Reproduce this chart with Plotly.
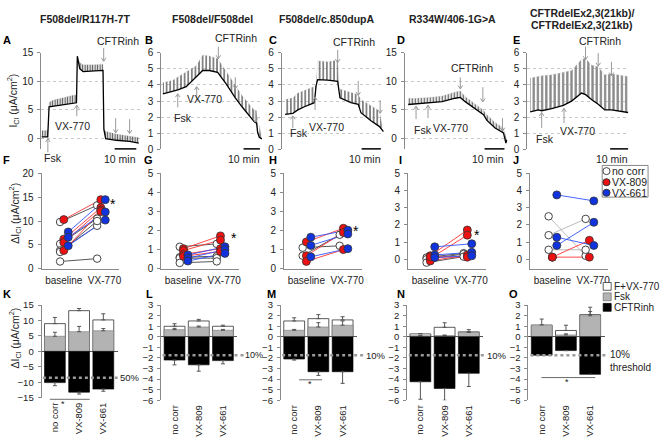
import plotly.graph_objects as go

W, H = 669, 444
def X(px): return px / W
def Y(py): return 1 - py / H

FONT = "Liberation Sans, Arial, sans-serif"
TXT = "#222222"

# ---------------- data ----------------
# Top row: Ussing chamber traces; time [min], baseline current and pulse tops [uA/cm2]
A_time = [0.1, 2.1, 2.9, 3.5, 5.4, 9.9, 15.2, 16.0, 16.4, 17.5, 19.0, 23.5, 28.1, 28.5, 29.3, 34.2, 40.2, 44.4]
A_low = [0.2, 0.2, 0.2, 5.5, 5.6, 5.9, 6.2, 6.2, 14.4, 12.2, 11.7, 11.8, 11.9, 1.5, -0.1, -0.4, -0.6, -0.9]
A_high = [1.3, 1.3, 1.3, 6.3, 6.7, 7.1, 7.6, 7.5, 14.4, 13.3, 12.9, 12.9, 13.0, 1.5, 1.2, 0.7, 0.4, 0.1]

B_time = [1.0, 7.0, 10.0, 15.0, 21.0, 24.9, 28.9, 33.9, 38.9, 44.5, 48.9, 52.9, 55.9, 57.3, 57.9, 58.9, 60.5]
B_low = [3.45, 3.6, 3.7, 3.9, 4.47, 4.9, 4.9, 4.78, 4.08, 3.2, 2.6, 2.08, 1.71, 1.63, 1.06, 0.75, 0.65]
B_high = [4.16, 4.3, 4.5, 4.8, 5.2, 5.86, 5.8, 5.65, 4.85, 3.95, 3.3, 2.8, 2.45, 2.4, 1.5, 1.47, 0.65]

C_time = [1.7, 5.7, 8.3, 11.7, 16.9, 17.8, 18.6, 23.8, 29.0, 29.8, 30.2, 35.9, 39.7, 41.1, 46.3, 50.6, 52.8]
C_low = [2.18, 2.24, 2.45, 2.65, 2.9, 3.96, 4.33, 4.3, 4.22, 3.7, 3.2, 2.9, 2.8, 2.28, 1.78, 1.43, 1.1]
C_high = [3.1, 3.2, 3.5, 3.67, 3.9, 3.96, 5.5, 5.45, 5.55, 3.7, 3.75, 3.55, 3.4, 3.1, 2.7, 2.4, 1.1]

D_time = [1.7, 5.3, 12.0, 18.7, 25.3, 27.8, 30.3, 37.0, 39.5, 41.2, 45.3, 49.5, 50.7, 51.2]
D_low = [5.9, 6.0, 6.1, 6.4, 7.0, 7.15, 6.4, 4.65, 4.1, 3.1, 1.75, 0.9, -0.9, -0.3]
D_high = [7.0, 7.0, 7.15, 7.4, 8.1, 8.3, 7.3, 5.6, 4.9, 4.1, 2.75, 1.75, 0.0, -0.3]

E_time = [1.5, 6.0, 7.8, 13.3, 19.7, 24.2, 29.7, 31.9, 35.1, 38.8, 42.4, 46.1, 55.2]
E_low = [2.33, 2.45, 2.4, 2.53, 2.73, 3.0, 3.5, 3.4, 3.1, 2.8, 2.45, 2.45, 2.29]
E_high = [4.43, 4.53, 4.57, 4.63, 4.78, 4.9, 5.6, 5.65, 5.24, 5.14, 4.63, 4.7, 4.53]

titles = ["F508del/R117H-7T", "F508del/F508del", "F508del/c.850dupA", "R334W/406-1G>A",
          "CFTRdelEx2,3(21kb)/", "CFTRdelEx2,3(21kb)"]

# Middle row: delta I_Cl at baseline and after VX-770, per corrector
groups = ["no corr", "VX-809", "VX-661"]
F_nocorr_base = [9.8, 5.2, 3.8, 3.5, 1.5]
F_nocorr_vx = [13.3, 10.5, 9.0, 10.0, 2.1]
F_809_base = [10.3, 6.2, 5.5, 3.8]
F_809_vx = [14.5, 12.8, 12.3, 12.0]
F_661_base = [7.7, 6.6, 4.8]
F_661_vx = [14.5, 11.9, 10.2]

G_nocorr_base = [1.15, 0.6, 0.55, 0.3]
G_nocorr_vx = [1.3, 0.65, 0.55, 0.38]
G_809_base = [1.05, 0.95, 0.75, 0.65]
G_809_vx = [1.72, 1.5, 1.05, 0.9]
G_661_base = [0.72, 0.55, 0.4]
G_661_vx = [1.15, 1.0, 0.8]

H_nocorr_base = [1.1, 0.68]
H_nocorr_vx = [1.2, 1.78]
H_809_base = [1.4, 0.68, 0.38]
H_809_vx = [2.12, 1.9, 1.0]
H_661_base = [1.65, 1.22, 0.62]
H_661_vx = [2.02, 1.82, 1.05]

I_nocorr_base = [0.1, 0.0, -0.2]
I_nocorr_vx = [0.35, 0.3, 0.15]
I_809_base = [0.2, 0.05, -0.1, 0.15]
I_809_vx = [1.7, 1.4, 0.25, 0.12]
I_661_base = [0.72, 0.25, 0.1]
I_661_vx = [0.9, 0.4, 0.2]

J_nocorr_base = [2.5, 1.4, 0.55]
J_nocorr_vx = [0.2, 2.35, 0.55]
J_809_base = [0.12, 0.12]
J_809_vx = [1.1, 0.12]
J_661_base = [3.75, 0.8, 1.28]
J_661_vx = [3.4, 2.15, 0.8]

# Bottom row: stacked bars (F+VX-770 total, Fsk, CFTRinh) with SEM
bar_cats = ["no corr", "VX-809", "VX-661"]
K_total = [9.0, 13.2, 10.2]; K_total_err = [2.0, 0.7, 2.0]
K_fsk = [4.9, 6.4, 6.7]; K_fsk_err = [1.3, 1.7, 0.7]
K_inh = [-10.1, -13.2, -12.2]; K_inh_err = [1.0, 0.6, 0.7]
L_total = [1.0, 1.5, 1.0]; L_total_err = [0.24, 0.15, 0.1]
L_fsk = [0.68, 0.93, 0.62]; L_fsk_err = [0.12, 0.09, 0.08]
L_inh = [-2.2, -2.65, -2.25]; L_inh_err = [0.45, 0.6, 0.3]
M_total = [1.5, 1.72, 1.6]; M_total_err = [0.3, 0.38, 0.3]
M_fsk = [0.62, 0.93, 1.1]; M_fsk_err = [0.08, 0.41, 0.4]
M_inh = [-2.1, -3.3, -3.3]; M_inh_err = [0.1, 0.35, 1.1]
N_total = [0.28, 0.9, 0.47]; N_total_err = [0.03, 0.43, 0.21]
N_fsk = [0.1, 0.12, 0.42]; N_fsk_err = [0.0, 0.05, 0.05]
N_inh = [-4.25, -4.88, -3.45]; N_inh_err = [1.65, 1.12, 1.25]
O_total = [1.1, 0.6, 2.1]; O_total_err = [0.0, 0.5, 0.7]
O_fsk = [1.12, 0.18, 2.0]; O_fsk_err = [0.56, 0.1, 0.4]
O_inh = [-1.74, -1.3, -3.55]; O_inh_err = [0.0, 0.0, 0.0]
thresholds = [-8.5, -1.75, -1.75, -1.75, -1.75]
threshold_labels = ["50%", "10%", "10%", "10%", "10%<br>threshold"]

# ---------------- figure ----------------
fig = go.Figure()
layout = {}
ann = []
shapes = []

def keys(i):
    s = "" if i == 1 else str(i)
    return "xaxis" + s, "yaxis" + s, "x" + s, "y" + s

def text(px, py, s, size=10.5, color=TXT, xanchor="center", yanchor="middle", angle=0, align="center"):
    ann.append(dict(x=X(px), y=Y(py), xref="paper", yref="paper", text=s, showarrow=False,
                    font=dict(size=size, color=color, family=FONT), xanchor=xanchor,
                    yanchor=yanchor, textangle=angle, align=align, borderpad=0))

def arrow(px, tip, tail):
    # thin gray arrow with an open "V" head, drawn as a path in page coordinates
    s = 1 if tip > tail else -1          # +1: head points down
    hy = tip - s * 3.5
    path = "M %.5f,%.5f L %.5f,%.5f M %.5f,%.5f L %.5f,%.5f L %.5f,%.5f" % (
        X(px), Y(tail), X(px), Y(tip), X(px - 2.3), Y(hy), X(px), Y(tip), X(px + 2.3), Y(hy))
    shapes.append(dict(type="path", xref="paper", yref="paper", path=path,
                       line=dict(color="#9a9a9a", width=1)))

def pline(x0, x1, y0, y1, color="black", width=1.0, dash="solid"):
    shapes.append(dict(type="line", xref="paper", yref="paper", x0=X(x0), x1=X(x1),
                       y0=Y(y0), y1=Y(y1), line=dict(color=color, width=width, dash=dash)))

axis_common = dict(showline=True, linecolor="#8a8a8a", linewidth=1, ticks="outside", ticklen=3,
                   tickcolor="#8a8a8a", tickfont=dict(size=10, color=TXT, family=FONT),
                   ticklabelstandoff=2, zeroline=False, showgrid=False)

# ---- top row ----
top = [
    (A_time, A_low, A_high, 41.5, 140.0, 2.2, [-2, 15], [0, 5, 10, 15], 2.5, "#555555", 0.5),
    (B_time, B_low, B_high, 161.7, 263.0, 1.67, [0, 6], [0, 1, 2, 3, 4, 5, 6], 3.6, "#6a6a6a", 0.42),
    (C_time, C_low, C_high, 282.7, 385.0, 1.93, [0, 6], [0, 1, 2, 3, 4, 5, 6], 3.6, "#6a6a6a", 0.42),
    (D_time, D_low, D_high, 406.0, 509.0, 2.0, [-2, 15], [0, 5, 10, 15], 3.0, "#626262", 0.45),
    (E_time, E_low, E_high, 529.0, 630.5, 1.83, [0, 6], [0, 1, 2, 3, 4, 5, 6], 4.2, "#8a8a8a", 0.55),
]
for k, (t, lo, hi, x0, x1, ppm, yr, tv, psz, pcol, sol) in enumerate(top):
    i = k + 1
    xk, yk, xr, yrf = keys(i)
    fig.add_trace(go.Scatter(x=t, y=hi, xaxis=xr, yaxis=yrf, mode="lines",
                             line=dict(color="#d0d0d0", width=0.3), hoverinfo="skip", showlegend=False))
    fig.add_trace(go.Scatter(x=t, y=lo, xaxis=xr, yaxis=yrf, mode="lines",
                             line=dict(color="black", width=1.3), fill="tonexty",
                             fillcolor="rgba(255,255,255,0)",
                             fillpattern=dict(shape="|", fgcolor=pcol, bgcolor="rgba(255,255,255,0)",
                                              size=psz, solidity=sol, fgopacity=1),
                             hoverinfo="skip", showlegend=False))
    layout[xk] = dict(domain=[X(x0), X(x1)], range=[0, (x1 - x0) / ppm], visible=False, anchor=yrf)
    d = dict(axis_common)
    d.update(domain=[Y(147), Y(48)], range=yr, tickvals=tv, anchor=xr, showgrid=True,
             gridcolor="#c8c8c8", griddash="dot", gridwidth=1)
    layout[yk] = d

# ---- middle row ----
mid = [
    (F_nocorr_base, F_nocorr_vx, F_809_base, F_809_vx, F_661_base, F_661_vx, 41.7, [0, 20], [0, 5, 10, 15, 20], "#444444"),
    (G_nocorr_base, G_nocorr_vx, G_809_base, G_809_vx, G_661_base, G_661_vx, 161.7, [0, 5], [0, 1, 2, 3, 4, 5], "#444444"),
    (H_nocorr_base, H_nocorr_vx, H_809_base, H_809_vx, H_661_base, H_661_vx, 285.0, [0, 5], [0, 1, 2, 3, 4, 5], "#444444"),
    (I_nocorr_base, I_nocorr_vx, I_809_base, I_809_vx, I_661_base, I_661_vx, 409.3, [-0.55, 5], [0, 1, 2, 3, 4, 5], "#444444"),
    (J_nocorr_base, J_nocorr_vx, J_809_base, J_809_vx, J_661_base, J_661_vx, 531.7, [-0.55, 5], [0, 1, 2, 3, 4, 5], "#b4b4b4"),
]
offsets = [-0.1, 0.0, 0.12]
line_cols = [None, "#ff3333", "#3355ff"]
mk = [dict(color="white", size=7.5, line=dict(color="#444", width=1)),
      dict(color="#ee1111", size=8, line=dict(color="#333", width=0.8)),
      dict(color="#1133dd", size=8, line=dict(color="#333", width=0.8))]
for k, (nb, nv, rb, rv, bb, bv, x0, yr, tv, gcol) in enumerate(mid):
    i = k + 6
    xk, yk, xr, yrf = keys(i)
    sets = [(nb, nv), (rb, rv), (bb, bv)]
    for g, (b, v) in enumerate(sets):
        xs, ys = [], []
        for bi, vi in zip(b, v):
            xs += [0 + offsets[g], 1 + offsets[g], None]
            ys += [bi, vi, None]
        fig.add_trace(go.Scatter(x=xs, y=ys, xaxis=xr, yaxis=yrf, mode="lines",
                                 line=dict(color=line_cols[g] or gcol, width=0.9),
                                 hoverinfo="skip", showlegend=False))
    for g, (b, v) in enumerate(sets):
        fig.add_trace(go.Scatter(x=[0 + offsets[g]] * len(b) + [1 + offsets[g]] * len(v), y=b + v,
                                 xaxis=xr, yaxis=yrf, mode="markers", marker=mk[g],
                                 name=groups[g], hoverinfo="skip", showlegend=False))
    dx = dict(axis_common)
    dx.update(domain=[X(x0), X(x0 + 78)], range=[-0.6, 1.5], tickvals=[0, 1.1],
              ticktext=["baseline", "VX-770"], ticks="", anchor=yrf)
    layout[xk] = dx
    dy = dict(axis_common)
    dy.update(domain=[Y(269.3), Y(171.7)], range=yr, tickvals=tv, anchor=xr)
    layout[yk] = dy

# ---- bottom row ----
bot = [
    (K_total, K_total_err, K_fsk, K_fsk_err, K_inh, K_inh_err, 41.7, [-15, 15], list(range(-15, 16, 5)), 401.7),
    (L_total, L_total_err, L_fsk, L_fsk_err, L_inh, L_inh_err, 161.7, [-6, 3], list(range(-6, 4)), 404.3),
    (M_total, M_total_err, M_fsk, M_fsk_err, M_inh, M_inh_err, 281.7, [-6, 3], list(range(-6, 4)), 404.3),
    (N_total, N_total_err, N_fsk, N_fsk_err, N_inh, N_inh_err, 408.3, [-6, 3], list(range(-6, 4)), 404.3),
    (O_total, O_total_err, O_fsk, O_fsk_err, O_inh, O_inh_err, 530.0, [-6, 3], list(range(-6, 4)), 404.3),
]
xpos = [0, 1, 2]
zeros = [0, 0, 0]
for k, (tot, tote, fsk, fske, inh, inhe, x0, yr, tv, ybot) in enumerate(bot):
    i = k + 11
    xk, yk, xr, yrf = keys(i)
    eb = dict(type="data", symmetric=False, color="#555555", thickness=1, width=2)
    fig.add_trace(go.Bar(x=xpos, y=tot, width=0.86, xaxis=xr, yaxis=yrf,
                         marker=dict(color="white", line=dict(color="#333", width=0.8)),
                         error_y=dict(eb, array=tote, arrayminus=zeros), hoverinfo="skip", showlegend=False))
    fig.add_trace(go.Bar(x=xpos, y=fsk, width=0.86, xaxis=xr, yaxis=yrf,
                         marker=dict(color="#b3b3b3", line=dict(color="#777", width=0.6)),
                         error_y=dict(eb, array=fske, arrayminus=zeros), hoverinfo="skip", showlegend=False))
    fig.add_trace(go.Bar(x=xpos, y=inh, width=0.86, xaxis=xr, yaxis=yrf,
                         marker=dict(color="black", line=dict(color="black", width=0.6)),
                         error_y=dict(eb, array=zeros, arrayminus=inhe), hoverinfo="skip", showlegend=False))
    dx = dict(axis_common)
    dx.update(domain=[X(x0), X(x0 + 76.5)], range=[-0.55, 2.6], tickvals=xpos, ticktext=bar_cats,
              tickangle=-90, ticks="", showline=False, anchor=yrf,
              tickfont=dict(size=9.5, color=TXT, family=FONT))
    layout[xk] = dx
    dy = dict(axis_common)
    dy.update(domain=[Y(ybot), Y(306.7)], range=yr, tickvals=tv, anchor=xr, zeroline=True,
              zerolinecolor="#555", zerolinewidth=1, tickfont=dict(size=9.5, color=TXT, family=FONT))
    layout[yk] = dy

# threshold lines
thr_x = [(43, 118, 119), (163, 245, 245), (283, 366, 366), (410, 487, 487), (532, 608, 611)]
for k, (xa, xb, xl) in enumerate(thr_x):
    yrf = keys(k + 11)[3]
    shapes.append(dict(type="line", xref="paper", yref=yrf, x0=X(xa), x1=X(xb),
                       y0=thresholds[k], y1=thresholds[k],
                       line=dict(color="#9a9a9a", width=2.5, dash="dot")))
    if k < 4:
        ann.append(dict(x=X(xl), y=thresholds[k], xref="paper", yref=yrf, text=threshold_labels[k],
                        showarrow=False, xanchor="left", yanchor="middle", borderpad=0,
                        font=dict(size=9 if k == 1 else 9.5, color=TXT, family=FONT)))
    else:
        ann.append(dict(x=X(xl), y=thresholds[k], xref="paper", yref=yrf, text=threshold_labels[k],
                        showarrow=False, xanchor="left", yanchor="top", align="left", yshift=7,
                        borderpad=0, font=dict(size=10, color=TXT, family=FONT)))

# significance bars
for (xa, xb, py, sx, sy) in [(50, 90, 403.3, 63, 408), (300, 323, 383.3, 310.7, 388), (543, 597, 381, 569, 386)]:
    pline(xa, xb, py, py, color="#444", width=0.8)
    text(sx, sy, "*", size=9)

# ---- titles and panel letters ----
text(85, 13.3, "<b>%s</b>" % titles[0], size=10.5)
text(213, 13.3, "<b>%s</b>" % titles[1], size=10.5)
text(328, 13.3, "<b>%s</b>" % titles[2], size=10.5)
text(454, 13.3, "<b>%s</b>" % titles[3], size=10.5)
text(584, 7.3, "<b>%s</b>" % titles[4], size=10.5)
text(584, 19.3, "<b>%s</b>" % titles[5], size=10.5)
for lab, px, py in [("A", 7, 35), ("B", 149, 35), ("C", 274, 35), ("D", 402, 35), ("E", 518, 35),
                    ("F", 7, 158), ("G", 149, 158), ("H", 274, 158), ("I", 402, 158), ("J", 518, 158),
                    ("K", 7, 295), ("L", 150, 295), ("M", 272, 295), ("N", 402, 295), ("O", 515, 295)]:
    text(px, py, "<b>%s</b>" % lab, size=11, color="black")

# axis titles
text(13, 97, "I<sub>Cl</sub> (μA/cm<sup>2</sup>)", size=10.5, angle=-90)
text(15, 212, "ΔI<sub>Cl</sub> (μA/cm<sup>2</sup>)", size=10.5, angle=-90)
text(15, 340, "ΔI<sub>Cl</sub> (μA/cm<sup>2</sup>)", size=10.5, angle=-90)

# ---- trace labels, arrows, scale bars ----
# A
text(118, 36, "CFTRinh"); text(72.5, 122.7, "VX-770"); text(53, 156, "Fsk")
arrow(104, 56.7, 43); arrow(77, 101.7, 113); arrow(48, 136, 150); arrow(116, 130, 115); arrow(130, 130.7, 116)
# B
text(237, 33.3, "CFTRinh"); text(205, 95.7, "VX-770"); text(183.3, 115, "Fsk")
arrow(219, 54, 41.7); arrow(236, 85, 73); arrow(256, 119, 107); arrow(197.3, 82.7, 96.7); arrow(178.3, 90, 104)
# C
text(355.3, 36.7, "CFTRinh"); text(327, 124, "VX-770"); text(300.3, 130.7, "Fsk")
arrow(338.7, 58, 45); arrow(359.3, 91.7, 76.7); arrow(381.3, 110, 96.7); arrow(316, 93.3, 106.7); arrow(293.7, 112.7, 125)
# D
text(473, 63.3, "CFTRinh"); text(452, 125, "VX-770"); text(424, 127.3, "Fsk")
arrow(461.7, 85, 73.3); arrow(484.3, 98.3, 83.3); arrow(504, 128.3, 115); arrow(417.3, 102.7, 116); arrow(429.3, 101.7, 115)
# E
text(601.7, 36, "CFTRinh"); text(579.3, 128.3, "VX-770"); text(546.7, 136, "Fsk")
arrow(587.3, 55, 41.7); arrow(600, 61.7, 48.3); arrow(613.3, 71.7, 57.3); arrow(543.3, 109.3, 125); arrow(565.7, 105, 120)
# scale bars
for (xa, xb) in [(115, 136.7), (244.3, 260.7), (362.7, 382), (486, 506), (612, 630)]:
    pline(xa, xb, 146.5, 146.5, color="black", width=1.5)
    text(xb + 1, 156.5, "10 min", xanchor="right")

# stars in middle row
for sx, sy in [(113, 203), (235, 238), (357.3, 231), (478.3, 235)]:
    text(sx, sy, "*", size=14, color="black")

# ---- legends (drawn manually) ----
shapes.append(dict(type="rect", xref="paper", yref="paper", x0=X(604), x1=X(650), y0=Y(196), y1=Y(163.5),
                   line=dict(color="#888", width=1), fillcolor="white"))
leg_mid = [("no corr", "white", "#444"), ("VX-809", "#ee1111", "#333"), ("VX-661", "#1133dd", "#333")]
for (name, fc, lc), cy in zip(leg_mid, [169.3, 180.7, 191.5]):
    r = 3.6
    shapes.append(dict(type="circle", xref="paper", yref="paper", x0=X(608.3 - r), x1=X(608.3 + r),
                       y0=Y(cy + r), y1=Y(cy - r), fillcolor=fc, line=dict(color=lc, width=1)))
    text(612.5, cy, name, size=10.5, xanchor="left")

leg_bot = [("F+VX-770", "white", "#333"), ("Fsk", "#b3b3b3", "#777"), ("CFTRinh", "black", "black")]
for (name, fc, lc), cy in zip(leg_bot, [287.5, 298.2, 309.0]):
    shapes.append(dict(type="rect", xref="paper", yref="paper", x0=X(605), x1=X(613), y0=Y(cy + 4), y1=Y(cy - 4),
                       fillcolor=fc, line=dict(color=lc, width=0.8)))
    text(615, cy, name, size=10, xanchor="left")

fig.update_layout(**layout)
fig.update_layout(width=W, height=H, margin=dict(l=0, r=0, t=0, b=0), paper_bgcolor="white",
                  plot_bgcolor="white", barmode="overlay", showlegend=False,
                  font=dict(family=FONT, size=10, color=TXT), annotations=ann, shapes=shapes)
fig.write_html("out.html", config={"displayModeBar": False},
               post_script="document.body.style.margin='0px';document.body.style.overflow='hidden';")
